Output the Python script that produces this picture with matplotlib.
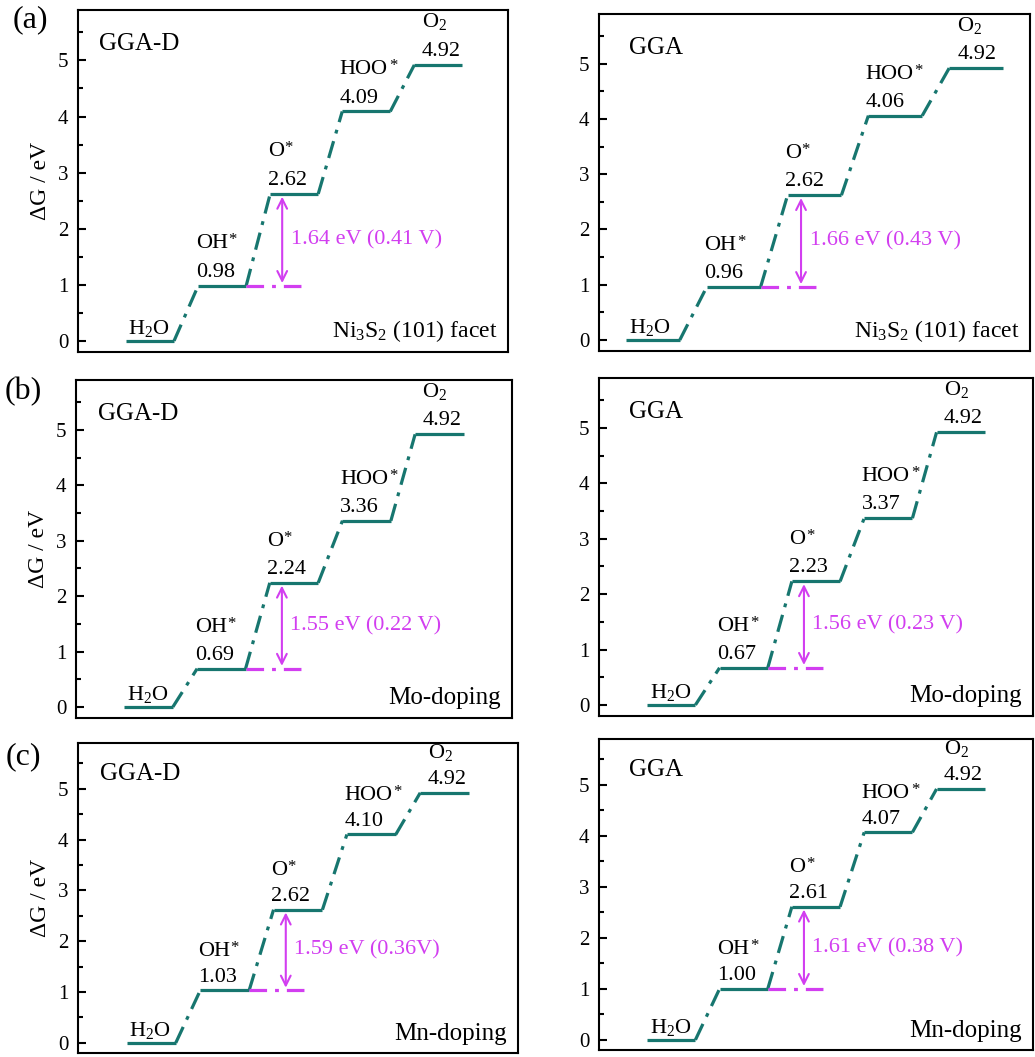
import matplotlib
matplotlib.use("Agg")
import matplotlib.pyplot as plt
from matplotlib.ticker import MultipleLocator

plt.rcParams['font.family'] = ['Liberation Serif', 'DejaVu Serif']
plt.rcParams['mathtext.fontset'] = 'custom'
plt.rcParams['mathtext.rm'] = 'Liberation Serif'
plt.rcParams['mathtext.default'] = 'regular'

# free energy levels (eV) for each step: H2O, OH*, O*, HOO*, O2
species = ['$H_2O$', 'OH', 'O', 'HOO', '$O_2$']
adsorbed = [False, True, True, True, False]
a_ggad = [0.00, 0.98, 2.62, 4.09, 4.92]
a_gga = [0.00, 0.96, 2.62, 4.06, 4.92]
b_ggad = [0.00, 0.69, 2.24, 3.36, 4.92]
b_gga = [0.00, 0.67, 2.23, 3.37, 4.92]
c_ggad = [0.00, 1.03, 2.62, 4.10, 4.92]
c_gga = [0.00, 1.00, 2.61, 4.07, 4.92]

gap_labels = ['1.64 eV (0.41 V)', '1.66 eV (0.43 V)',
              '1.55 eV (0.22 V)', '1.56 eV (0.23 V)',
              '1.59 eV (0.36V)', '1.61 eV (0.38 V)']
methods = ['GGA-D', 'GGA']
systems = ['Ni$_3$S$_2$ (101) facet', 'Mo-doping', 'Mn-doping']
letters = ['(a)', '(b)', '(c)']

TEAL = '#17766f'
MAGENTA = '#d23ef0'
W, H = 1035, 1057

# axes boxes in pixels: left, top, right, bottom
boxes = [(78, 10, 508, 352), (599, 14, 1030, 351),
         (76, 380, 512, 718), (599, 378, 1033, 716),
         (78, 743, 518, 1053), (599, 739, 1033, 1050)]
xlims = [(-2, 15.9), (-1, 15), (-2, 16), (-2, 16), (-2, 16), (-2, 16)]

fig = plt.figure(figsize=(W / 100, H / 100), dpi=100)

all_levels = [a_ggad, a_gga, b_ggad, b_gga, c_ggad, c_gga]
for k, levels in enumerate(all_levels):
    l, t, r, b = boxes[k]
    ax = fig.add_axes([l / W, (H - b) / H, (r - l) / W, (b - t) / H])
    row, col = divmod(k, 2)

    # horizontal levels
    for i, g in enumerate(levels):
        ax.plot([3 * i, 3 * i + 2], [g, g], color=TEAL, lw=2.3,
                solid_capstyle='butt')
    # dash-dot connectors
    for i in range(len(levels) - 1):
        ax.plot([3 * i + 2, 3 * i + 3], [levels[i], levels[i + 1]],
                color=TEAL, lw=2.3, linestyle=(0, (5.5, 2.5, 1.2, 2.5)),
                dash_capstyle='butt')

    # labels
    for i, g in enumerate(levels):
        if i == 0:
            ax.text(0.1, g + 0.04, species[i], fontsize=16, va='bottom')
            continue
        x0 = 3 * i - 0.1 if i < 4 else 3 * i + 0.3
        ax.text(x0, g + 0.07, f'{g:.2f}', fontsize=16, va='bottom')
        name = ax.text(x0, g + 0.58, species[i], fontsize=16, va='bottom')
        if adsorbed[i]:
            ax.annotate('*', xy=(1.02, 0.47), xycoords=name, fontsize=12,
                        ha='left', va='baseline')

    # potential-determining step
    g1, g2 = levels[1], levels[2]
    ax.plot([5, 7.3], [g1, g1], color=MAGENTA, lw=2.3,
            linestyle=(0, (5.5, 2.5, 1.2, 2.5)), dash_capstyle='butt')
    ax.annotate('', xy=(6.5, g2), xytext=(6.5, g1),
                arrowprops=dict(arrowstyle='<->,head_length=0.7,head_width=0.35',
                                color=MAGENTA, lw=1.5, shrinkA=2, shrinkB=2))
    ax.text(6.85, (g1 + g2) / 2, gap_labels[k], fontsize=16, color=MAGENTA,
            va='center')

    ax.text(0.05 if col == 0 else 0.07, 0.9, methods[col], fontsize=18,
            transform=ax.transAxes, va='center')
    ax.text(0.975, 0.06, systems[row], fontsize=17 if row == 0 else 18,
            transform=ax.transAxes, ha='right', va='center')

    ax.set_xlim(*xlims[k])
    ax.set_ylim(-0.2, 5.9)
    ax.set_xticks([])
    ax.yaxis.set_major_locator(MultipleLocator(1))
    ax.yaxis.set_minor_locator(MultipleLocator(0.5))
    ax.tick_params(axis='y', which='major', direction='in', length=6,
                   width=1.5, labelsize=15, pad=7)
    ax.tick_params(axis='y', which='minor', direction='in', length=3.5,
                   width=1.5)
    for s in ax.spines.values():
        s.set_linewidth(1.5)
    if col == 0:
        ax.set_ylabel('ΔG / eV', fontsize=17, labelpad=5)

fig.text(13 / W, 1 - 20 / H, letters[0], fontsize=23, va='center')
fig.text(5 / W, 1 - 392 / H, letters[1], fontsize=23, va='center')
fig.text(6 / W, 1 - 757 / H, letters[2], fontsize=23, va='center')

fig.savefig('out.png', dpi=100)
